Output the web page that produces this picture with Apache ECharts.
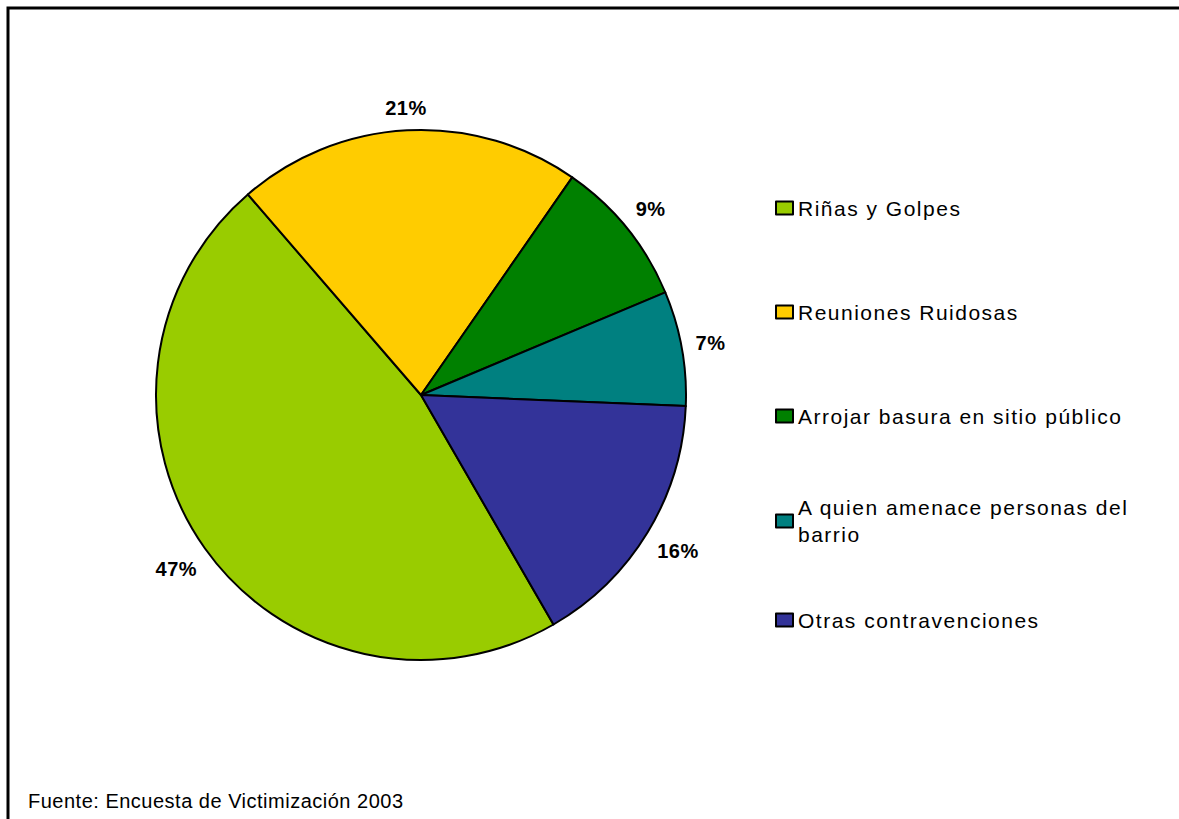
<!DOCTYPE html>
<html>
<head>
<meta charset="utf-8">
<script src="https://cdn.jsdelivr.net/npm/echarts@6/dist/echarts.min.js"></script>
<style>
  html, body { margin: 0; padding: 0; background: #fff; }
  #chart { width: 1179px; height: 819px; }
  #chart text[style*="21px"] { letter-spacing: 1.5px; }
  #chart text[style*="20px"] { letter-spacing: 0.5px; }
</style>
</head>
<body>
<div id="chart"></div>
<script>
const categories = [
  'Riñas y Golpes',
  'Reuniones Ruidosas',
  'Arrojar basura en sitio público',
  'A quien amenace personas del barrio',
  'Otras contravenciones'
];
const legendLabels = [
  'Riñas y Golpes',
  'Reuniones Ruidosas',
  'Arrojar basura en sitio público',
  'A quien amenace personas del\nbarrio',
  'Otras contravenciones'
];
const percentages = [47, 21, 9, 7, 16];
const colors = ['#99CC00', '#FFCC00', '#008000', '#008080', '#333399'];
const sourceNote = 'Fuente: Encuesta de Victimización 2003';

const CX = 421, CY = 395, R = 265, START = -60;

const chart = echarts.init(document.getElementById('chart'), null, { renderer: 'svg' });

const sliceData = categories.map((c, i) => ({ name: c, value: percentages[i], itemStyle: { color: colors[i] } }));

const legendCenters = [208, 312, 416, 521, 620];
const legends = categories.map((c, i) => {
  const twoLine = legendLabels[i].indexOf('\n') >= 0;
  return {
    show: true,
    orient: 'vertical',
    left: 775,
    top: twoLine ? legendCenters[i] - 40.5 : legendCenters[i] - 12,
    padding: 0,
    icon: 'rect',
    itemWidth: 17,
    itemHeight: 13,
    itemGap: 0,
    selectedMode: false,
    itemStyle: { borderColor: '#000', borderWidth: 2 },
    data: [c],
    formatter: function () { return legendLabels[i]; },
    textStyle: twoLine ? {
      fontFamily: 'Liberation Sans',
      fontSize: 21,
      color: '#000',
      lineHeight: 27,
      padding: [27, 0, 0, 0]
    } : {
      fontFamily: 'Liberation Sans',
      fontSize: 21,
      color: '#000',
      lineHeight: 24
    }
  };
});

function placeLabel(p) {
  const i = p.dataIndex;
  const total = percentages.reduce((a, b) => a + b, 0);
  let before = 0;
  for (let k = 0; k < i; k++) before += percentages[k];
  const mid = (START - (before + percentages[i] / 2) / total * 360) * Math.PI / 180;
  const c = Math.cos(mid), s = Math.sin(mid);
  const w = p.labelRect.width / 2 + 3, h = 11;
  const d = R + 10 + Math.abs(c) * w + Math.abs(s) * h;
  return { x: CX + c * d, y: CY - s * d, align: 'center', verticalAlign: 'middle' };
}

chart.setOption({
  animation: false,
  backgroundColor: '#fff',
  legend: legends,
  graphic: [
    {
      type: 'rect',
      shape: { x: 8, y: 8, width: 1300, height: 1000 },
      style: { fill: 'none', stroke: '#000', lineWidth: 3 },
      silent: true,
      z: 100
    },
    {
      type: 'text',
      x: 28,
      y: 801,
      style: {
        text: sourceNote,
        fontFamily: 'Liberation Sans',
        fontSize: 20,
        fill: '#000',
        verticalAlign: 'middle',
        align: 'left'
      }
    }
  ],
  series: [
    {
      type: 'pie',
      center: [CX, CY],
      radius: R,
      startAngle: START,
      clockwise: true,
      emphasis: { disabled: true },
      itemStyle: { borderColor: '#000', borderWidth: 2 },
      labelLine: { show: false },
      label: {
        show: true,
        position: 'inside',
        formatter: '{c}%',
        fontFamily: 'Liberation Sans',
        fontWeight: 'bold',
        fontSize: 20,
        color: '#000'
      },
      labelLayout: placeLabel,
      data: sliceData
    }
  ]
});
</script>
</body>
</html>
